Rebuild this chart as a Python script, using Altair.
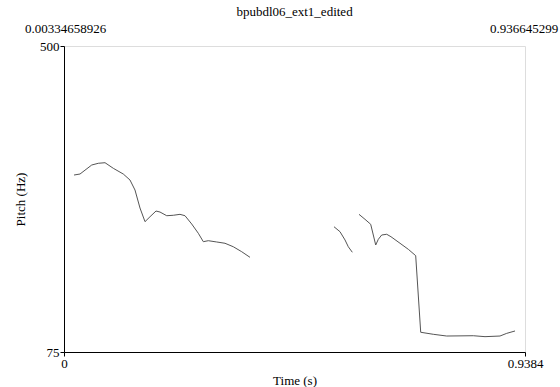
import altair as alt
import pandas as pd

# Pitch contour segments (time in s, pitch in Hz)
seg1_t = [0.0204, 0.0326, 0.0564, 0.0698, 0.0835, 0.1004, 0.1207, 0.1343, 0.1445, 0.1547,
          0.1649, 0.1751, 0.1873, 0.1954, 0.2091, 0.2225, 0.2361, 0.2463, 0.2599, 0.2734,
          0.2836, 0.2937, 0.3108, 0.3277, 0.3446, 0.3617, 0.3786]
seg1_f = [320.8, 322.2, 334.7, 337.1, 337.9, 330.1, 322.2, 313.9, 300.0, 275.0,
          256.0, 262.9, 270.8, 269.4, 264.3, 264.9, 266.2, 264.3, 252.8, 239.9,
          228.2, 229.6, 227.8, 226.0, 221.2, 214.3, 206.5]
seg2_t = [0.5496, 0.5618, 0.5720, 0.5787, 0.5869]
seg2_f = [249.0, 242.1, 230.6, 221.2, 213.5]
seg3_t = [0.6005, 0.6127, 0.6243, 0.6296, 0.6345, 0.6398, 0.6467, 0.6569, 0.6656, 0.6840,
          0.7009, 0.7159, 0.7261, 0.7517, 0.7790, 0.8332, 0.8570, 0.8875, 0.9012, 0.9181]
seg3_f = [266.2, 259.3, 252.4, 237.5, 223.6, 231.5, 237.5, 238.5, 235.1, 226.0,
          217.6, 208.8, 102.4, 99.6, 97.2, 97.6, 96.3, 97.2, 100.9, 104.2]

title_text = "bpubdl06_ext1_edited"
x_min, x_max = 0.0, 0.9384
y_min, y_max = 75, 500
top_labels_t = [0.00334658926, 0.936645299]
top_labels_s = ["0.00334658926", "0.936645299"]

rows = []
for name, ts, fs in [("s1", seg1_t, seg1_f), ("s2", seg2_t, seg2_f), ("s3", seg3_t, seg3_f)]:
    for i, (t, f) in enumerate(zip(ts, fs)):
        rows.append({"seg": name, "order": i, "t": t, "f": f})
df = pd.DataFrame(rows)
top_df = pd.DataFrame({"t": top_labels_t, "label": top_labels_s})

FONT = "serif"

xscale = alt.Scale(domain=[x_min, x_max], nice=False, zero=False)
yscale = alt.Scale(domain=[y_min, y_max], nice=False, zero=False)

line = alt.Chart(df).mark_line(color="#555555", strokeWidth=1).encode(
    x=alt.X("t:Q", scale=xscale, title="Time (s)",
            axis=alt.Axis(values=[x_min, x_max], labelExpr="datum.value == 0 ? '0' : '0.9384'",
                          grid=False, tickSize=4, labelPadding=1, titlePadding=4,
                          domainColor="black", tickColor="black",
                          labelFont=FONT, titleFont=FONT, labelFontSize=13, titleFontSize=13,
                          titleFontWeight="normal", labelColor="black", titleColor="black",
                          labelFlush=False)),
    y=alt.Y("f:Q", scale=yscale, title="Pitch (Hz)",
            axis=alt.Axis(values=[y_min, y_max], grid=False, tickSize=4, labelPadding=1,
                          titlePadding=12, domainColor="black", tickColor="black",
                          labelFont=FONT, titleFont=FONT, labelFontSize=13, titleFontSize=13,
                          titleFontWeight="normal", labelColor="black", titleColor="black",
                          labelFlush=False)),
    detail="seg:N",
    order="order:Q",
)

top = alt.Chart(top_df).mark_text(font=FONT, fontSize=13, color="black", baseline="bottom").encode(
    x=alt.X("t:Q", scale=xscale),
    y=alt.value(-10),
    text="label:N",
)

chart = alt.layer(line, top).properties(
    width=461, height=306,
    title=alt.TitleParams(title_text, font=FONT, fontSize=13, fontWeight="normal",
                          color="black", anchor="middle", offset=4),
    autosize=alt.AutoSizeParams(type="none"),
    padding={"left": 64, "top": 46, "right": 35, "bottom": 35},
).configure_view(stroke="black", strokeWidth=1).configure(background="white")

chart.save("out.html", embed_options={"renderer": "svg", "actions": False})
